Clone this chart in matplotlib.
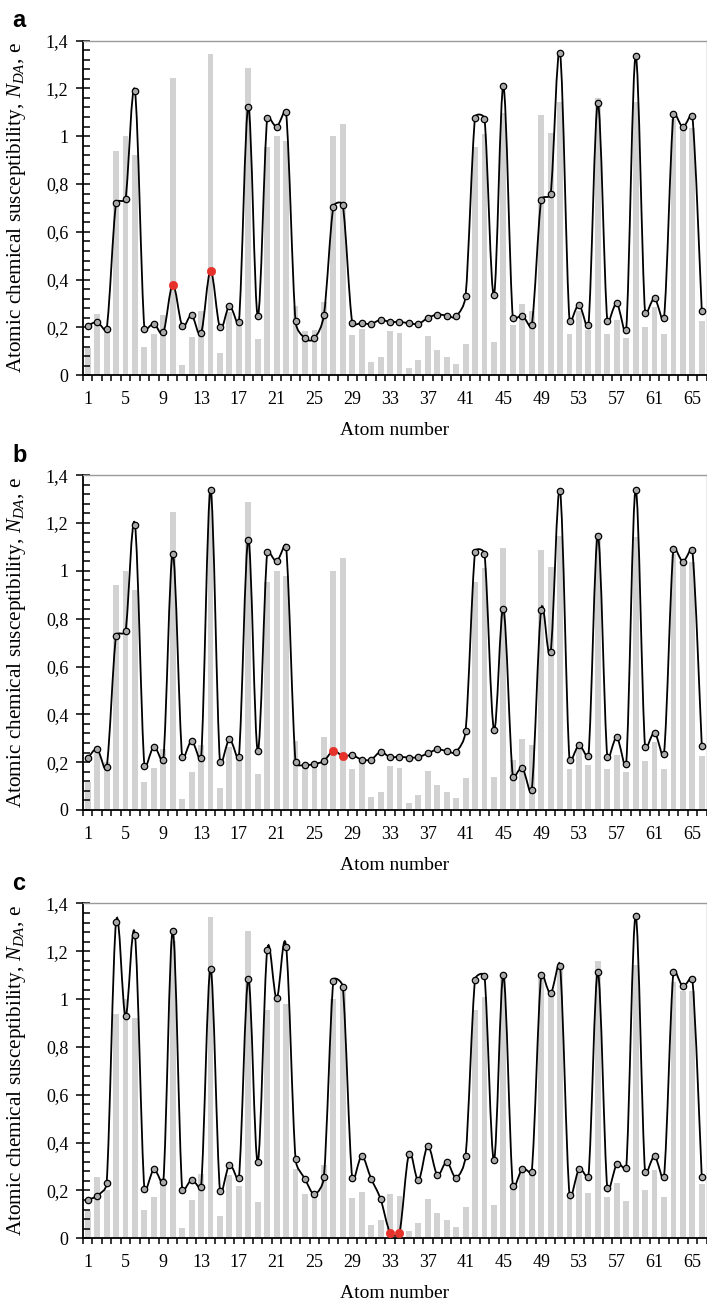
import numpy as np
import matplotlib
matplotlib.use('Agg')
from matplotlib import pyplot as plt
from matplotlib.path import Path
from matplotlib.patches import PathPatch
from matplotlib.ticker import FixedLocator, MultipleLocator

plt.rcParams['font.family'] = 'Liberation Serif'
plt.rcParams['mathtext.fontset'] = 'custom'
plt.rcParams['mathtext.rm'] = 'Liberation Serif'
plt.rcParams['mathtext.it'] = 'Liberation Serif:italic'

# Atom numbers and gray bar heights (same in every panel)
atoms = np.arange(1, 67)
bars = [0.115, 0.257, 0.20, 0.94, 1.0, 0.92, 0.118, 0.174, 0.254, 1.245,
        0.045, 0.159, 0.27, 1.342, 0.092, 0.265, 0.22, 1.286, 0.152, 0.953,
        1.0, 0.98, 0.29, 0.187, 0.19, 0.307, 1.0, 1.052, 0.17, 0.195,
        0.056, 0.077, 0.185, 0.176, 0.03, 0.062, 0.165, 0.106, 0.077, 0.049,
        0.132, 0.953, 1.011, 0.139, 1.096, 0.209, 0.298, 0.27, 1.089, 1.015,
        1.144, 0.172, 0.27, 0.19, 1.16, 0.172, 0.232, 0.158, 1.141, 0.204,
        0.285, 0.173, 1.07, 1.035, 1.035, 0.227]

# Line series for panels a, b, c
line_a = [0.208, 0.222, 0.194, 0.72, 0.738, 1.188, 0.195, 0.216, 0.179, 0.379,
          0.208, 0.252, 0.177, 0.437, 0.2, 0.29, 0.222, 1.123, 0.248, 1.077,
          1.04, 1.099, 0.225, 0.155, 0.155, 0.252, 0.704, 0.711, 0.22, 0.218,
          0.215, 0.232, 0.223, 0.223, 0.218, 0.215, 0.24, 0.254, 0.25, 0.247,
          0.333, 1.078, 1.073, 0.336, 1.208, 0.238, 0.25, 0.209, 0.734, 0.757,
          1.347, 0.229, 0.296, 0.209, 1.137, 0.229, 0.301, 0.19, 1.335, 0.262,
          0.322, 0.238, 1.091, 1.038, 1.085, 0.27]
line_b = [0.216, 0.254, 0.179, 0.729, 0.747, 1.193, 0.186, 0.265, 0.209, 1.071,
          0.221, 0.289, 0.216, 1.337, 0.2, 0.296, 0.223, 1.131, 0.248, 1.078,
          1.04, 1.101, 0.2, 0.187, 0.193, 0.205, 0.248, 0.225, 0.229, 0.211,
          0.211, 0.243, 0.221, 0.223, 0.219, 0.221, 0.237, 0.253, 0.247, 0.244,
          0.331, 1.079, 1.072, 0.336, 0.842, 0.14, 0.176, 0.084, 0.838, 0.662,
          1.333, 0.209, 0.271, 0.226, 1.147, 0.222, 0.304, 0.194, 1.34, 0.262,
          0.324, 0.235, 1.092, 1.039, 1.086, 0.269]
line_c = [0.162, 0.178, 0.23, 1.323, 0.929, 1.268, 0.206, 0.288, 0.234, 1.284,
          0.203, 0.244, 0.215, 1.127, 0.199, 0.308, 0.251, 1.084, 0.32, 1.205,
          1.003, 1.22, 0.332, 0.248, 0.185, 0.256, 1.077, 1.052, 0.251, 0.343,
          0.249, 0.164, 0.024, 0.024, 0.351, 0.242, 0.386, 0.266, 0.319, 0.254,
          0.344, 1.082, 1.096, 0.327, 1.099, 0.219, 0.29, 0.279, 1.099, 1.024,
          1.138, 0.181, 0.288, 0.258, 1.113, 0.209, 0.309, 0.293, 1.347, 0.276,
          0.343, 0.258, 1.114, 1.054, 1.086, 0.255]

# Highlighted (red) atoms per panel
red_a = [10, 14]
red_b = [27, 28]
red_c = [33, 34]

panel_letters = ['a', 'b', 'c']
y_ticks = [0, 0.2, 0.4, 0.6, 0.8, 1.0, 1.2, 1.4]
y_ticklabels = ['0', '0,2', '0,4', '0,6', '0,8', '1', '1,2', '1,4']
x_ticks = atoms[::4]

W, H = 707.0, 1301.0
AX_W, AX_H = 623.5, 334.8


def arm(vec, seg_len):
    # tangent arm = vec/6, but never longer than half of the segment
    a = vec / 6.0
    la = np.hypot(*a)
    if la > seg_len / 2.0 and la > 0:
        a = a * (seg_len / 2.0) / la
    return a


def smooth_path(x, y, sx, sy):
    # Excel-like smoothed line built from cubic Bezier segments (in pixel units)
    pts = np.column_stack([np.asarray(x) * sx, np.asarray(y) * sy]).astype(float)
    n = len(pts)
    verts = [pts[0]]
    codes = [Path.MOVETO]
    for i in range(n - 1):
        p0 = pts[i - 1] if i > 0 else pts[i]
        p1 = pts[i]
        p2 = pts[i + 1]
        p3 = pts[i + 2] if i + 2 < n else pts[i + 1]
        d12 = np.hypot(*(p2 - p1))
        c1 = p1 + arm(p2 - p0, d12)
        c2 = p2 - arm(p3 - p1, d12)
        verts += [c1, c2, p2]
        codes += [Path.CURVE4, Path.CURVE4, Path.CURVE4]
    verts = np.array(verts) / np.array([sx, sy])
    return Path(verts, codes)


def draw_panel(fig, rect, line, red, letter):
    ax = fig.add_axes(rect)
    ax.bar(atoms, bars, width=0.62, color='#d2d2d2', zorder=1)

    # Smoothed line
    sx = AX_W / 66.0
    sy = AX_H / 1.4
    ax.add_patch(PathPatch(smooth_path(atoms, line, sx, sy), facecolor='none', edgecolor='black',
                           linewidth=1.3, zorder=2))
    line = np.array(line)
    normal = [k for k in atoms if k not in red]
    ax.plot(normal, line[np.array(normal) - 1], linestyle='none', marker='o', markersize=4.6,
            markerfacecolor='#a9a9a9', markeredgecolor='black', markeredgewidth=0.9, zorder=3)
    ax.plot(red, line[np.array(red) - 1], linestyle='none', marker='o', markersize=6,
            markerfacecolor='#e5322a', markeredgecolor='#e5322a', markeredgewidth=0.5, zorder=3)

    ax.set_xlim(0.5, 66.5)
    ax.set_ylim(0, 1.4)

    # y axis: labelled majors, small minors
    ax.set_yticks(y_ticks)
    ax.set_yticklabels(y_ticklabels)
    ax.yaxis.set_minor_locator(MultipleLocator(0.04))
    ax.tick_params(axis='y', which='major', direction='inout', length=10, width=1.1,
                   labelsize=13, pad=5.5)
    ax.tick_params(axis='y', which='minor', direction='in', length=5, width=1.1)

    # x axis: tick marks between categories, labels every 4th atom
    ax.set_xticks(x_ticks)
    ax.set_xticklabels([str(k) for k in x_ticks])
    ax.xaxis.set_minor_locator(FixedLocator(np.arange(0.5, 67, 1.0)))
    ax.tick_params(axis='x', which='major', length=0, labelsize=13, pad=11.5)
    ax.tick_params(axis='x', which='minor', direction='out', length=4, width=1.1)

    for side in ['left', 'bottom']:
        ax.spines[side].set_linewidth(1.3)
        ax.spines[side].set_color('black')
    for side in ['top', 'right']:
        ax.spines[side].set_linewidth(1.0)
        ax.spines[side].set_color('#9a9a9a')

    ax.set_xlabel('Atom number', fontsize=14, labelpad=10)
    ax.set_ylabel('Atomic chemical susceptibility, $N_{DA}$, e', fontsize=15.3)
    ax.yaxis.set_label_coords(-0.088, 0.5)

    fig.text(rect[0] - 71 / W, rect[1] + rect[3] + 13.5 / H, letter, fontsize=17,
             fontweight='bold', family='Liberation Sans', ha='left', va='baseline')
    return ax


fig = plt.figure(figsize=(W / 100, H / 100), dpi=100)

left = 83 / W
width = AX_W / W
height = AX_H / H
bottoms = [1 - 375.3 / H, 1 - 810.0 / H, 1 - 1238.3 / H]

for line, red, letter, bottom in zip([line_a, line_b, line_c], [red_a, red_b, red_c],
                                     panel_letters, bottoms):
    draw_panel(fig, [left, bottom, width, height], line, red, letter)

plt.savefig('out.png', dpi=100)
plt.close(fig)
